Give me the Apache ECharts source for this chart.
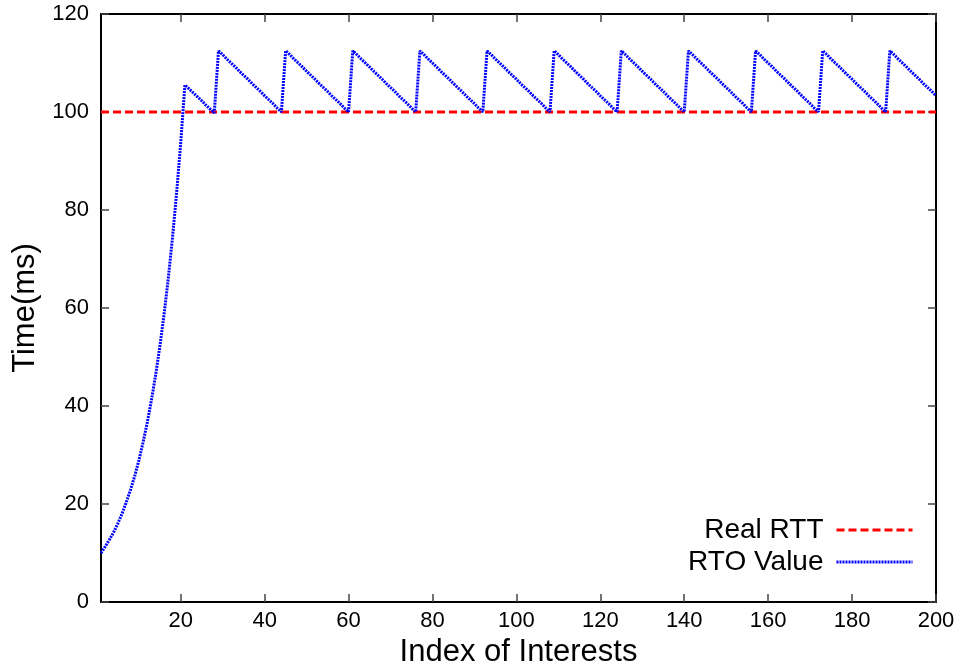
<!DOCTYPE html>
<html>
<head>
<meta charset="utf-8">
<title>RTT vs RTO</title>
<script src="https://cdn.jsdelivr.net/npm/echarts@6/dist/echarts.min.js"></script>
<style>
  html, body { margin: 0; padding: 0; background: #fff; }
  #chart { width: 963px; height: 666px; }
</style>
</head>
<body>
<div id="chart"></div>
<script>
// Measured round-trip time (constant) over the interest index range
const rttPoints = [[1, 100], [200, 100]];

// Retransmission timeout per interest, index 1..200
const rtoValues = [
  // start-up: estimator converging towards the RTT
  10.0, 11.3, 12.7, 14.2, 16.0, 18.0, 20.3, 22.8, 25.6, 28.8,
  32.5, 36.5, 41.1, 46.2, 52.0, 58.5, 65.8, 74.0, 83.3, 93.7,
  105.5,
  104.7, 103.9, 103.1, 102.3, 101.4, 100.6, 99.8,
  // steady state: sawtooth with period 16
  112.5, 111.7, 110.8, 110.0, 109.2, 108.3, 107.5, 106.7, 105.8, 105.0, 104.2, 103.3, 102.5, 101.7, 100.8, 100.0,
  112.5, 111.7, 110.8, 110.0, 109.2, 108.3, 107.5, 106.7, 105.8, 105.0, 104.2, 103.3, 102.5, 101.7, 100.8, 100.0,
  112.5, 111.7, 110.8, 110.0, 109.2, 108.3, 107.5, 106.7, 105.8, 105.0, 104.2, 103.3, 102.5, 101.7, 100.8, 100.0,
  112.5, 111.7, 110.8, 110.0, 109.2, 108.3, 107.5, 106.7, 105.8, 105.0, 104.2, 103.3, 102.5, 101.7, 100.8, 100.0,
  112.5, 111.7, 110.8, 110.0, 109.2, 108.3, 107.5, 106.7, 105.8, 105.0, 104.2, 103.3, 102.5, 101.7, 100.8, 100.0,
  112.5, 111.7, 110.8, 110.0, 109.2, 108.3, 107.5, 106.7, 105.8, 105.0, 104.2, 103.3, 102.5, 101.7, 100.8, 100.0,
  112.5, 111.7, 110.8, 110.0, 109.2, 108.3, 107.5, 106.7, 105.8, 105.0, 104.2, 103.3, 102.5, 101.7, 100.8, 100.0,
  112.5, 111.7, 110.8, 110.0, 109.2, 108.3, 107.5, 106.7, 105.8, 105.0, 104.2, 103.3, 102.5, 101.7, 100.8, 100.0,
  112.5, 111.7, 110.8, 110.0, 109.2, 108.3, 107.5, 106.7, 105.8, 105.0, 104.2, 103.3, 102.5, 101.7, 100.8, 100.0,
  112.5, 111.7, 110.8, 110.0, 109.2, 108.3, 107.5, 106.7, 105.8, 105.0, 104.2, 103.3, 102.5, 101.7, 100.8, 100.0,
  112.5, 111.7, 110.8, 110.0, 109.2, 108.3, 107.5, 106.7, 105.8, 105.0, 104.2, 103.3
];

const xTicks = [20, 40, 60, 80, 100, 120, 140, 160, 180, 200];
const yTicks = [0, 20, 40, 60, 80, 100, 120];

const FONT = '"Liberation Sans", Arial, sans-serif';

const rtoPoints = rtoValues.map((v, i) => [i + 1, v]);

const frameLine = { show: true, onZero: false, lineStyle: { color: '#000', width: 2 } };
const innerTick = { show: true, inside: true, length: 8, lineStyle: { color: '#444', width: 1.5 } };

const legendText = { fontSize: 28, color: '#000', fontFamily: FONT, padding: [0, 8, 0, 0] };

const chart = echarts.init(document.getElementById('chart'), null, { renderer: 'canvas' });

chart.setOption({
  animation: false,
  backgroundColor: '#fff',
  textStyle: { fontFamily: FONT },
  grid: { left: 101, right: 27, top: 14, bottom: 64, containLabel: false, outerBoundsMode: 'none' },
  xAxis: [
    {
      type: 'value', position: 'bottom', min: 1, max: 200,
      name: 'Index of Interests', nameLocation: 'middle', nameGap: 30,
      nameTextStyle: { fontSize: 31, color: '#000', fontFamily: FONT },
      axisLine: frameLine,
      axisTick: Object.assign({}, innerTick, { customValues: xTicks }),
      axisLabel: { customValues: xTicks, fontSize: 22, color: '#000', margin: 8, fontFamily: FONT },
      splitLine: { show: false }
    },
    {
      type: 'value', position: 'top', min: 1, max: 200,
      axisLine: frameLine,
      axisTick: Object.assign({}, innerTick, { customValues: xTicks }),
      axisLabel: { show: false },
      splitLine: { show: false }
    }
  ],
  yAxis: [
    {
      type: 'value', position: 'left', min: 0, max: 120, interval: 20,
      name: 'Time(ms)', nameLocation: 'middle', nameGap: 56, nameRotate: 90,
      nameTextStyle: { fontSize: 31, color: '#000', fontFamily: FONT },
      axisLine: frameLine,
      axisTick: innerTick,
      axisLabel: { fontSize: 22, color: '#000', margin: 12, fontFamily: FONT,
        customValues: yTicks },
      splitLine: { show: false }
    },
    {
      type: 'value', position: 'right', min: 0, max: 120, interval: 20,
      axisLine: frameLine,
      axisTick: innerTick,
      axisLabel: { show: false },
      splitLine: { show: false }
    }
  ],
  legend: [
    {
      data: ['Real RTT'], orient: 'vertical', align: 'right',
      right: 44, top: 511, itemWidth: 76, itemHeight: 16,
      itemStyle: { opacity: 0 },
      lineStyle: { width: 3 },
      textStyle: legendText
    },
    {
      data: ['RTO Value'], orient: 'vertical', align: 'right',
      right: 44, top: 543, itemWidth: 76, itemHeight: 16,
      itemStyle: { opacity: 0 },
      lineStyle: { width: 3 },
      textStyle: legendText
    }
  ],
  series: [
    {
      name: 'Real RTT', type: 'line', data: rttPoints,
      symbol: 'none', silent: true,
      lineStyle: { color: '#ff0000', width: 3, type: [8, 4] },
      itemStyle: { color: '#ff0000' }
    },
    {
      name: 'RTO Value', type: 'line', data: rtoPoints,
      symbol: 'none', silent: true,
      lineStyle: { color: '#0000ff', width: 3, type: [2, 1] },
      itemStyle: { color: '#0000ff' }
    }
  ]
});
</script>
</body>
</html>
